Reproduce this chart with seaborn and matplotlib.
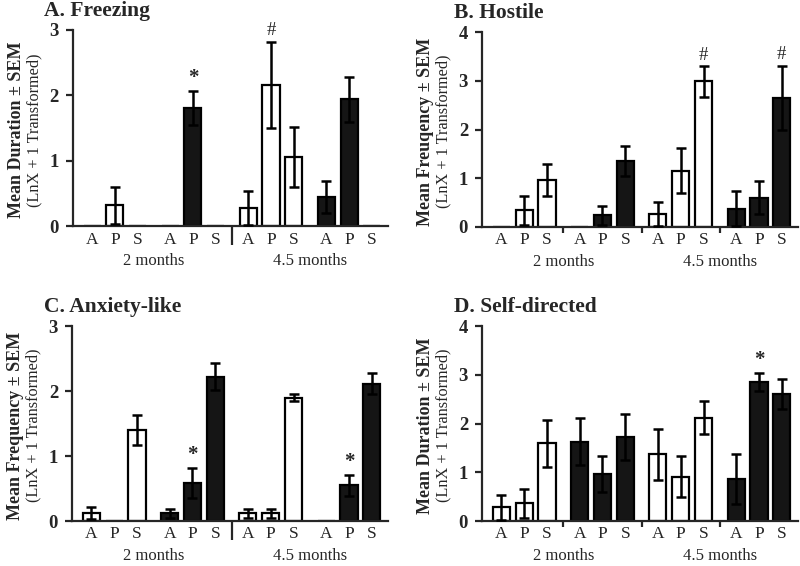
import numpy as np
import pandas as pd
import matplotlib
matplotlib.use("Agg")
import matplotlib.pyplot as plt
import seaborn as sns

# --- data ---
conditions = ["A", "P", "S"] * 4
fills = ["white"] * 3 + ["black"] * 3 + ["white"] * 3 + ["black"] * 3
ages = ["2 months", "4.5 months"]

freezing_mean = [0, 0.32, 0, 0, 1.81, 0, 0.28, 2.16, 1.06, 0.45, 1.94, 0]
freezing_sem = [0, 0.28, 0, 0, 0.26, 0, 0.26, 0.66, 0.46, 0.24, 0.34, 0]
hostile_mean = [0, 0.34, 0.96, 0, 0.24, 1.35, 0.27, 1.16, 2.99, 0.37, 0.60, 2.65]
hostile_sem = [0, 0.30, 0.33, 0, 0.20, 0.31, 0.24, 0.46, 0.31, 0.36, 0.34, 0.66]
anxiety_mean = [0.12, 0, 1.40, 0.12, 0.59, 2.22, 0.12, 0.12, 1.90, 0, 0.55, 2.11]
anxiety_sem = [0.09, 0, 0.23, 0.07, 0.23, 0.21, 0.07, 0.07, 0.05, 0, 0.16, 0.16]
selfdir_mean = [0.28, 0.36, 1.59, 1.63, 0.96, 1.72, 1.37, 0.91, 2.12, 0.86, 2.85, 2.60]
selfdir_sem = [0.25, 0.29, 0.48, 0.49, 0.37, 0.47, 0.52, 0.42, 0.34, 0.51, 0.19, 0.31]

freezing_marks = {4: "*", 7: "#"}
hostile_marks = {8: "#", 11: "#"}
anxiety_marks = {4: "*", 10: "*"}
selfdir_marks = {10: "*"}

# --- style ---
sns.set_style("ticks")
plt.rcParams["font.family"] = ["Liberation Serif", "DejaVu Serif"]
plt.rcParams["axes.linewidth"] = 1.6

GROUP_STEP = 3.43
xpos = [g * GROUP_STEP + i for g in range(4) for i in range(3)]
BLACK = "#151515"


def draw_panel(ax, title, ylab, mean, sem, marks, ymax, separators, sep_len):
    df = pd.DataFrame({"x": xpos, "value": mean, "fill": fills})
    sns.barplot(data=df, x="x", y="value", hue="fill", native_scale=True,
                palette={"white": "white", "black": BLACK}, dodge=False,
                width=0.75, edgecolor="black", linewidth=1.6,
                errorbar=None, legend=False, ax=ax)

    m = np.array(mean)
    s = np.array(sem)
    xs = np.array(xpos)
    keep = m > 0
    ax.errorbar(xs[keep], m[keep], yerr=s[keep], fmt="none", ecolor="black",
                elinewidth=1.8, capsize=3.5, capthick=1.8, zorder=5)

    for i, sym in marks.items():
        ax.annotate(sym, (xpos[i], mean[i] + sem[i]), xytext=(0, 2),
                    textcoords="offset points", ha="center", va="bottom",
                    fontsize=13.5 if sym == "#" else 15,
                    fontweight="normal" if sym == "#" else "bold")

    ax.set_xlim(-0.85, 13.0)
    ax.set_ylim(0, ymax)
    ax.set_yticks(range(ymax + 1))
    ax.set_yticklabels([str(v) for v in range(ymax + 1)],
                       fontsize=13.5, fontweight="bold")
    ax.tick_params(axis="y", length=5, width=1.6, pad=5, direction="out")
    ax.set_xticks(separators)
    ax.set_xticklabels([])
    ax.tick_params(axis="x", length=sep_len, width=1.6, direction="out")
    ax.set_xlabel("")
    ax.set_ylabel("")
    sns.despine(ax=ax)

    for x, lab in zip(xpos, conditions):
        ax.annotate(lab, (x, 0), xycoords=("data", "axes fraction"),
                    xytext=(0, -9.5), textcoords="offset points",
                    ha="center", va="center", fontsize=12.5)
    for g, age in enumerate(ages):
        xc = (xpos[6 * g] + xpos[6 * g + 5]) / 2
        ax.annotate(age, (xc, 0), xycoords=("data", "axes fraction"),
                    xytext=(0, -25), textcoords="offset points",
                    ha="center", va="center", fontsize=12)

    ax.text(-0.18, 0.49, ylab, transform=ax.transAxes, rotation=90,
            ha="center", va="center", fontsize=13, fontweight="bold")
    ax.text(-0.123, 0.49, "(LnX + 1 Transformed)", transform=ax.transAxes,
            rotation=90, ha="center", va="center", fontsize=11.7)
    ax.set_title(title, loc="left", x=-0.09, y=1.03, fontsize=15.5,
                 fontweight="bold")


fig = plt.figure(figsize=(8, 5.66), dpi=100)
ax_a = fig.add_axes([0.091, 0.600, 0.394, 0.347])
ax_b = fig.add_axes([0.6025, 0.599, 0.395, 0.344])
ax_c = fig.add_axes([0.090, 0.0795, 0.395, 0.3445])
ax_d = fig.add_axes([0.6025, 0.0795, 0.395, 0.3445])

mid_sep = [(xpos[5] + xpos[6]) / 2]
all_sep = [(xpos[k] + xpos[k + 1]) / 2 for k in (2, 5, 8)]

draw_panel(ax_a, "A. Freezing", "Mean Duration \u00b1 SEM",
           freezing_mean, freezing_sem, freezing_marks, 3, mid_sep, 14)
draw_panel(ax_b, "B. Hostile", "Mean Freuqency \u00b1 SEM",
           hostile_mean, hostile_sem, hostile_marks, 4, all_sep, 4)
draw_panel(ax_c, "C. Anxiety-like", "Mean Frequency \u00b1 SEM",
           anxiety_mean, anxiety_sem, anxiety_marks, 3, mid_sep, 14)
draw_panel(ax_d, "D. Self-directed", "Mean Duration \u00b1 SEM",
           selfdir_mean, selfdir_sem, selfdir_marks, 4, all_sep, 4)

fig.savefig("out.png", dpi=100)
